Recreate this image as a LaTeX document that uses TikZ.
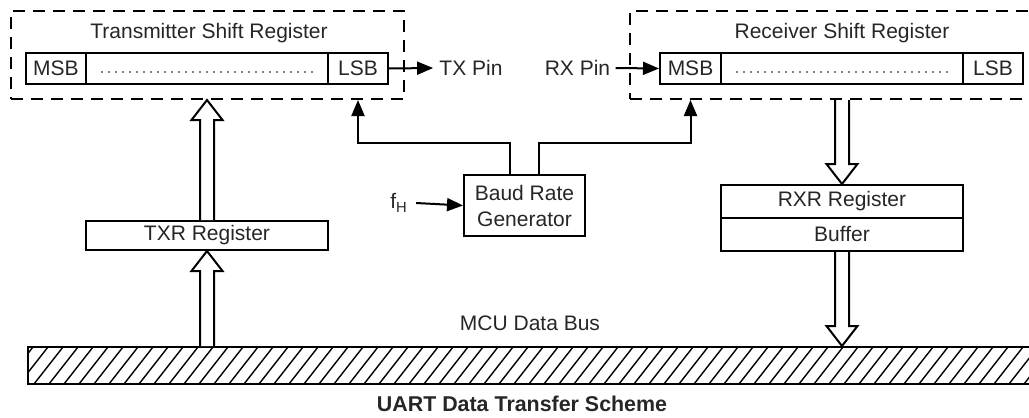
\documentclass[tikz,border=0pt]{standalone}
\usepackage{fontspec}
\setmainfont{Liberation Sans}
\usetikzlibrary{arrows.meta,calc}

% hollow bus arrow between two points on one vertical
\newcommand\fatarrow[2]{%
  \draw[fill=white,line width=1pt,line join=miter]
    let \p1=(#1), \p2=(#2), \n1={sign(\y2-\y1)} in
    ({\x1-3.5pt},\y1) -- ({\x1-3.5pt},{\y2-\n1*10pt}) -- ({\x1-7.75pt},{\y2-\n1*10pt})
    -- (\x1,\y2) -- ({\x1+7.75pt},{\y2-\n1*10pt}) -- ({\x1+3.5pt},{\y2-\n1*10pt})
    -- ({\x1+3.5pt},\y1);}

\begin{document}
\begin{tikzpicture}[x=0.5pt,y=-0.5pt,
font=\fontsize{10.5}{13}\selectfont,text=black!85,
frame/.style={draw,dashed,dash pattern=on 6pt off 4pt,line width=1pt,minimum height=44pt},
cell/.style={draw,line width=1pt,minimum height=15.5pt,inner sep=0pt},
box/.style={draw,line width=1pt,align=center,inner sep=0pt},
dots/.style={line width=0.9pt,dash pattern=on 0pt off 3.5pt,line cap=round},
sig/.style={line width=1pt,-{Triangle[length=8pt,width=6.5pt]}},
pin/.style={inner sep=3pt},
bus/.style={draw,line width=1pt,minimum width=508.5pt,minimum height=18.5pt,inner sep=0pt,
  path picture={\foreach \k in {0,...,72}
    \draw[line width=0.7pt] ([xshift=\k*7.5pt-12pt]path picture bounding box.south west) -- ++(14.5pt,18.5pt);}}]
\clip (0,0) rectangle (1029,418);
% shift registers
\node[frame,minimum width=196.5pt] (txsr) at (207.5,55) {};
\node (txtitle) at (209,33) {Transmitter Shift Register};
\node[cell,minimum width=30pt] (msbT) at (56,68.5) {MSB};
\node[cell,minimum width=121pt] (midT) at (207,68.5) {};
\node[cell,minimum width=30pt] (lsbT) at (358,68.5) {LSB};
\node[frame,minimum width=207.5pt] (rxsr) at (837.5,55) {};
\node (rxtitle) at (842,33) {Receiver Shift Register};
\node[cell,minimum width=30.5pt] (msbR) at (690.5,68.5) {MSB};
\node[cell,minimum width=121pt] (midR) at (842,68.5) {};
\node[cell,minimum width=30pt] (lsbR) at (993,68.5) {LSB};
\draw[dots] ([shift={(8.5pt,-1.75pt)}]midT.west) -- ([shift={(-8pt,-1.75pt)}]midT.east);
\draw[dots] ([shift={(8.5pt,-1.75pt)}]midR.west) -- ([shift={(-8pt,-1.75pt)}]midR.east);
% pins
\node[pin] (txpin) at (471,68) {TX Pin};
\node[pin,inner sep=2.5pt] (rxpin) at (577.5,68) {RX Pin};
\draw[sig] (lsbT.east) -- (txpin.west);
\draw[sig] (rxpin.east) -- (msbR.west);
% baud rate generator
\node[box,minimum width=60.5pt,minimum height=30.5pt] (brg) at (524.5,205.5) {Baud Rate\\Generator};
\node[inner sep=4pt] (fh) at (399,203) {f\textsubscript{H}};
\draw[sig] (fh.east) -- (brg.west);
\draw[sig] ([xshift=-7.25pt]brg.north) -- ++(0,-31) -| (lsbT |- txsr.south);
\draw[sig] ([xshift=7.25pt]brg.north) -- ++(0,-31) -| (msbR |- rxsr.south);
% registers
\node[box,minimum width=121pt,minimum height=14.5pt] (txr) at (207,235.5) {TXR Register};
\node[box,minimum width=121pt,minimum height=16.5pt] (rxr) at (842,201.5) {RXR Register};
\node[box,minimum width=121pt,minimum height=16.5pt] (buf) at (842,234.5) {Buffer};
% data bus
\node[bus] (bus) at (536.5,365.5) {};
\node (busname) at (530,323) {MCU Data Bus};
\fatarrow{txr |- bus.north}{txr.south}
\fatarrow{txr.north}{txr |- txsr.south}
\fatarrow{rxr |- rxsr.south}{rxr.north}
\fatarrow{buf.south}{buf |- bus.north}
\node[font=\fontsize{10.7}{13}\selectfont\bfseries] (caption) at (522,404) {UART Data Transfer Scheme};
\end{tikzpicture}
\end{document}
